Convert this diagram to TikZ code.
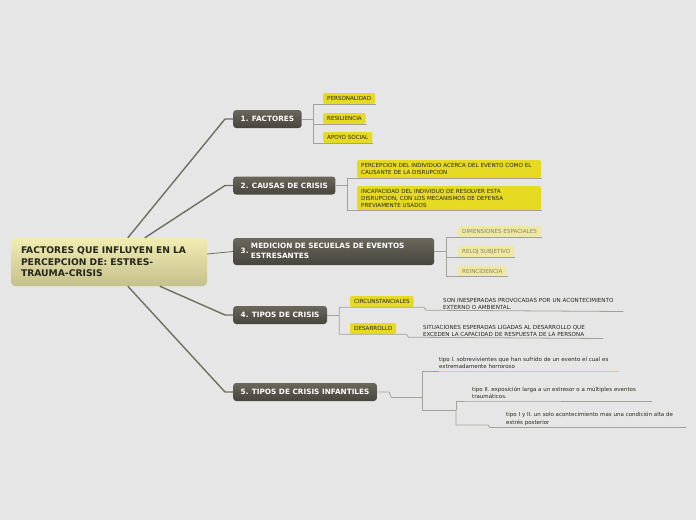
\documentclass[tikz,border=0pt]{standalone}
\usepackage{fontspec}
\setmainfont{DejaVu Sans}
\usepackage{tikz}
\usetikzlibrary{calc,positioning}
\definecolor{paper}{RGB}{230,230,230}
\definecolor{rootlight}{RGB}{241,237,178}
\definecolor{rootmid}{RGB}{228,223,158}
\definecolor{rootdark}{RGB}{198,192,140}
\definecolor{boxtop}{RGB}{106,104,92}
\definecolor{boxbot}{RGB}{70,68,60}
\definecolor{leafyellow}{RGB}{230,218,34}
\definecolor{paleyellow}{RGB}{238,232,166}
\definecolor{paletext}{RGB}{138,134,88}
\definecolor{stemgray}{RGB}{112,110,96}
\definecolor{twiggray}{RGB}{162,162,156}
\definecolor{linkorange}{RGB}{240,198,124}
\definecolor{inktext}{RGB}{38,38,28}
\tikzset{
  rootbox/.style={rectangle, rounded corners=4pt, top color=rootlight, middle color=rootmid, bottom color=rootdark, minimum width=196pt, minimum height=48pt, inner sep=0pt, text width=176pt, align=left, text=inktext, font=\fontsize{9.2}{11.5}\selectfont\bfseries},
  mainbox/.style={rectangle, rounded corners=3pt, top color=boxtop, bottom color=boxbot, minimum height=18pt, inner xsep=7.5pt, inner ysep=0pt, text=white, font=\fontsize{7.3}{10}\selectfont\bfseries, anchor=west},
  leaf/.style={rectangle, rounded corners=1.5pt, fill=leafyellow, minimum height=11pt, inner xsep=4pt, inner ysep=1pt, text=inktext, font=\fontsize{5.6}{7}\selectfont, anchor=west},
  paleleaf/.style={leaf, fill=paleyellow, text=paletext},
  note/.style={inner xsep=0pt, inner ysep=2pt, align=left, text=inktext, anchor=south west},
  capsnote/.style={note, text width=180pt, font=\fontsize{5.6}{7}\selectfont},
  lownote/.style={note, text width=180pt, font=\fontsize{5.5}{7.5}\selectfont},
  stem/.style={draw=stemgray, line width=1.4pt, line join=round},
  thinstem/.style={draw=stemgray, line width=.8pt},
  twig/.style={draw=twiggray, line width=.8pt}
}

\begin{document}
\begin{tikzpicture}[x=1pt,y=-1pt]
  \fill[paper] (0,0) rectangle (696,520);
  \useasboundingbox (0,0) rectangle (696,520);

  % central topic
  \node[rootbox] (root) at (109,262) {FACTORES QUE INFLUYEN EN LA\\PERCEPCION DE: ESTRES-\\TRAUMA-CRISIS};

  % main topics
  \node[mainbox] (fact) at (233,119) {1. FACTORES};
  \node[mainbox] (caus) at (233,185.5) {2. CAUSAS DE CRISIS};
  \node[mainbox, minimum width=201pt, minimum height=27pt, text width=186pt, align=left] (medi) at (233,251.5)
    {3.\ \begin{tabular}{@{}l@{}}MEDICION DE SECUELAS DE EVENTOS\\ESTRESANTES\end{tabular}};
  \node[mainbox] (tipo) at (233,315) {4. TIPOS DE CRISIS};
  \node[mainbox] (infa) at (233,392) {5. TIPOS DE CRISIS INFANTILES};

  \draw[stem] ([xshift=117pt]root.north west) -- ([xshift=-8pt]fact.west) -- (fact.west);
  \draw[stem] ([xshift=134pt]root.north west) -- ([xshift=-8pt]caus.west) -- (caus.west);
  \draw[thinstem] ([yshift=8pt]root.east) -- (medi.west);
  \draw[stem] ([xshift=149pt]root.south west) -- ([xshift=-8pt]tipo.west) -- (tipo.west);
  \draw[stem] ([xshift=117pt]root.south west) -- ([xshift=-8pt]infa.west) -- (infa.west);

  % 1. factores
  \node[leaf] (pers) at (323,98.5) {PERSONALIDAD};
  \node[leaf] (resi) at (323,118.5) {RESILIENCIA};
  \node[leaf] (apoy) at (323,137.5) {APOYO SOCIAL};
  \draw[twig] (fact.east) -- ++(12,0) coordinate (ft);
  \foreach \n in {pers,resi,apoy}
    \draw[twig] (ft) |- ([xshift=1pt]\n.south east);

  % 2. causas
  \node[leaf, text width=176pt, minimum height=18pt, align=left] (cpe) at (357,169)
    {PERCEPCION DEL INDIVIDUO ACERCA DEL EVENTO COMO EL\\CAUSANTE DE LA DISRUPCION};
  \node[leaf, text width=176pt, minimum height=24pt, align=left] (cin) at (357,198)
    {INCAPACIDAD DEL INDIVIDUO DE RESOLVER ESTA\\DISRUPCION, CON LOS MECANISMOS DE DEFENSA\\PREVIAMENTE USADOS};
  \draw[twig] (caus.east) -- ++(12,0) coordinate (ct);
  \foreach \n in {cpe,cin}
    \draw[twig] (ct) |- ([xshift=1pt]\n.south east);

  % 3. medicion
  \node[paleleaf] (dime) at (458,231.5) {DIMENSIONES ESPACIALES};
  \node[paleleaf] (relo) at (458,251.5) {RELOJ SUBJETIVO};
  \node[paleleaf] (rein) at (458,271) {REINCIDENCIA};
  \draw[twig] (medi.east) -- ++(12,0) coordinate (mt);
  \foreach \n in {dime,relo,rein}
    \draw[twig] (mt) |- ([xshift=1pt]\n.south east);

  % 4. tipos de crisis
  \node[leaf] (circ) at (350,301.5) {CIRCUNSTANCIALES};
  \node[leaf] (desa) at (350,328.5) {DESARROLLO};
  \node[capsnote] (circd) at (443,311.5)
    {SON INESPERADAS PROVOCADAS POR UN ACONTECIMIENTO\\EXTERNO O AMBIENTAL.};
  \node[capsnote] (desad) at (423,338.5)
    {SITUACIONES ESPERADAS LIGADAS AL DESARROLLO QUE\\EXCEDEN LA CAPACIDAD DE RESPUESTA DE LA PERSONA};
  \draw[twig] (tipo.east) -- ++(12,0) coordinate (tt);
  \draw[twig] (tt) |- ([xshift=10pt]circ.south east) -- ++(2,3) -- (circd.south east);
  \draw[twig] (tt) |- ([xshift=10pt]desa.south east) -- ++(2,3) -- (desad.south east);

  % 5. tipos de crisis infantiles
  \node[lownote] (tone) at (439,371)
    {tipo I. sobrevivientes que han sufrido de un evento el cual es\\extremadamente horroroso};
  \node[lownote] (ttwo) at (472,401)
    {tipo II. exposición larga a un estresor o a múltiples eventos\\traumáticos.};
  \node[lownote] (tthr) at (506,427.5)
    {tipo I y II. un solo acontecimiento mas una condición alta de\\estrés posterior};
  \draw[twig] (infa.east) -- ++(12,0) -- ++(2,5) coordinate (is);
  \path (is -| tone.south west) ++(-17,0) coordinate (it);
  \draw[twig] (is) -- (it);
  \draw[twig] (it) |- (tone.south west);
  \draw[draw=linkorange, line width=.8pt] (tone.south west) -- (tone.south east);
  \draw[twig] (it) -- ++(0,13) -- ++(34,0) coordinate (jt);
  \draw[twig] (jt) |- (ttwo.south west) -- (ttwo.south east);
  \draw[twig] (jt) -- ++(0,15) -- ++(32,0) -- ++(2,2.5) -- (tthr.south west) -- (tthr.south east);
\end{tikzpicture}
\end{document}
